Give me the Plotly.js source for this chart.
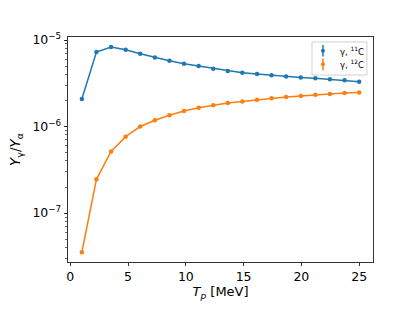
<!DOCTYPE html>
<html>
<head>
<meta charset="utf-8">
<script src="https://cdn.plot.ly/plotly-3.0.1.min.js"></script>
<style>html,body{margin:0;padding:0;background:#fff;}#chart{width:415px;height:311px;}</style>
</head>
<body>
<div id="chart"></div>
<script>
// Proton energy T_p [MeV]
const tp = [1.00, 2.26, 3.53, 4.79, 6.05, 7.32, 8.58, 9.84, 11.11, 12.37,
            13.63, 14.89, 16.16, 17.42, 18.68, 19.95, 21.21, 22.47, 23.74, 25.00];
// Y_gamma / Y_alpha for 11C
const y11C = [2.08e-6, 7.26e-6, 8.30e-6, 7.73e-6, 6.95e-6, 6.30e-6, 5.77e-6, 5.32e-6, 5.00e-6, 4.66e-6,
              4.38e-6, 4.19e-6, 4.05e-6, 3.91e-6, 3.80e-6, 3.70e-6, 3.61e-6, 3.51e-6, 3.42e-6, 3.30e-6];
// Y_gamma / Y_alpha for 12C
const y12C = [3.52e-8, 2.45e-7, 5.16e-7, 7.64e-7, 1.00e-6, 1.18e-6, 1.35e-6, 1.51e-6, 1.65e-6, 1.76e-6,
              1.87e-6, 1.95e-6, 2.04e-6, 2.12e-6, 2.19e-6, 2.25e-6, 2.33e-6, 2.38e-6, 2.44e-6, 2.48e-6];
const seriesNames = ['γ, <sup>11</sup>C', 'γ, <sup>12</sup>C'];
const xTicks = [0, 5, 10, 15, 20, 25];
const yTicks = [1e-7, 1e-6, 1e-5];
const yTickText = ['10<sup>−7</sup>', '10<sup>−6</sup>', '10<sup>−5</sup>'];

const colors = ['#1f77b4', '#ff7f0e'];
const font = 'DejaVu Sans, sans-serif';

const traces = [
  {x: tp, y: y11C, mode: 'lines+markers', name: seriesNames[0], line: {color: colors[0], width: 1.5},
   marker: {color: colors[0], size: 4.5}, showlegend: false},
  {x: tp, y: y12C, mode: 'lines+markers', name: seriesNames[1], line: {color: colors[1], width: 1.5},
   marker: {color: colors[1], size: 4.5}, showlegend: false}
];

// Compact matplotlib-style legend (errorbar keys) drawn in paper coordinates
const leg = {x0: 0.80, x1: 0.980, y0: 0.831, y1: 0.978, keyX: 0.836, textX: 0.885, rows: [0.939, 0.8787]};
const shapes = [{
  type: 'rect', xref: 'paper', yref: 'paper', x0: leg.x0, x1: leg.x1, y0: leg.y0, y1: leg.y1,
  fillcolor: 'rgba(255,255,255,0.8)', line: {color: 'rgba(204,204,204,0.9)', width: 1}, layer: 'above'
}];
const annotations = [];
leg.rows.forEach((yc, i) => {
  shapes.push({type: 'line', xref: 'paper', yref: 'paper', x0: leg.keyX, x1: leg.keyX,
    y0: yc - 0.026, y1: yc + 0.026, line: {color: colors[i], width: 1.5}, layer: 'above'});
  shapes.push({type: 'circle', xref: 'paper', yref: 'paper', x0: leg.keyX - 0.0066, x1: leg.keyX + 0.0066,
    y0: yc - 0.0089, y1: yc + 0.0089, fillcolor: colors[i], line: {color: colors[i], width: 0}, layer: 'above'});
  annotations.push({xref: 'paper', yref: 'paper', x: leg.textX, y: yc, xanchor: 'left', yanchor: 'middle',
    text: seriesNames[i], showarrow: false, font: {family: font, size: 8.5, color: '#000'}});
});

const layout = {
  width: 415, height: 311,
  margin: {l: 68, r: 42, t: 37, b: 49},
  paper_bgcolor: '#fff', plot_bgcolor: '#fff',
  font: {family: font, size: 12.5, color: '#000'},
  showlegend: false,
  xaxis: {
    range: [-0.2, 26.2], tickvals: xTicks, ticks: 'outside', ticklen: 3.5, tickwidth: 0.8,
    tickcolor: '#000', showline: true, linecolor: '#000', linewidth: 0.8, mirror: true,
    showgrid: false, zeroline: false, tickfont: {family: font, size: 12.5},
    title: {text: '<i>T</i><sub><i>p</i></sub> [MeV]', font: {family: font, size: 13}, standoff: 3}
  },
  yaxis: {
    type: 'log', range: [-7.566, -4.965], tickvals: yTicks, ticktext: yTickText,
    ticks: 'outside', ticklen: 3.5, tickwidth: 0.8, tickcolor: '#000', tickfont: {family: font, size: 12.5},
    minor: {ticks: 'outside', ticklen: 2, tickwidth: 0.6, tickcolor: '#000', dtick: 'D1', showgrid: false},
    showline: true, linecolor: '#000', linewidth: 0.8, mirror: true,
    showgrid: false, zeroline: false,
    title: {text: '<i>Y</i><sub>γ</sub>/<i>Y</i><sub>α</sub>', font: {family: font, size: 13.5}, standoff: 8}
  },
  shapes: shapes,
  annotations: annotations
};

Plotly.newPlot('chart', traces, layout, {displayModeBar: false, staticPlot: true});
</script>
</body>
</html>
